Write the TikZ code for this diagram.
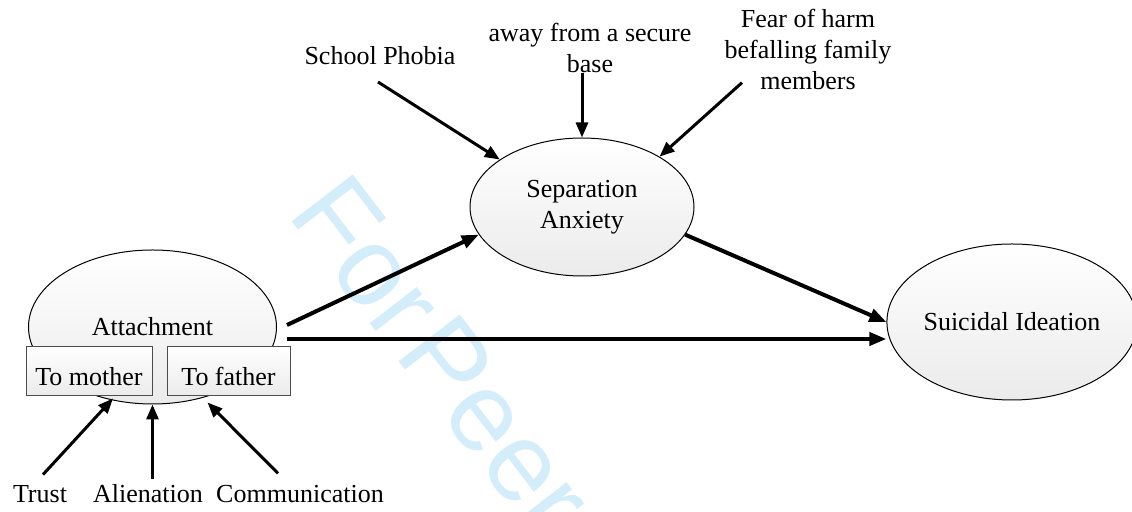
\documentclass[tikz,border=0pt]{standalone}
\usepackage{fontspec}
\setmainfont{Liberation Serif}
\newfontfamily\wmfont{Liberation Sans}
\usetikzlibrary{arrows.meta,shapes.geometric}
\definecolor{wmblue}{HTML}{D4EDFA}
\definecolor{fillbot}{HTML}{EBEBEB}
\begin{document}
\begin{tikzpicture}[x=0.5pt,y=-0.5pt,
  txt/.style={font=\fontsize{13}{15.5}\selectfont},
  lbl/.style={txt, inner sep=0pt, align=center},
  oval/.style={ellipse, draw=black, line width=0.5pt, top color=white, bottom color=fillbot,
               inner sep=0pt, align=center, txt},
  subbox/.style={rectangle, draw=black!70, line width=0.5pt, top color=white, bottom color=fillbot,
                 inner sep=0pt, txt, minimum height=24.5pt, text height=14pt, text depth=0pt},
  thinarr/.style={line width=1.5pt, -{Triangle[length=7.5pt,width=6pt]}},
  thickarr/.style={line width=2pt, -{Triangle[length=8.5pt,width=6.5pt]}},
  wm/.style={font=\wmfont\fontsize{56}{56}\selectfont, text=wmblue, inner sep=0pt}
]
\useasboundingbox (0,0) rectangle (1132,512);
% watermark
\begin{scope}
\clip (0,0) rectangle (1132,512);
\node[wm, rotate=-52.5, anchor=base west] (wmark) at (286,214) {For\kern0.08em Peer};
\end{scope}

% main nodes
\node[oval, minimum width=124pt, minimum height=77pt] (att) at (152.5,327) {Attachment};
\node[subbox, minimum width=63pt] (tm) at (89,371.5) {To mother};
\node[subbox, minimum width=61.5pt] (tf) at (228.5,371.5) {To father};
\node[oval, minimum width=112pt, minimum height=69pt] (sep) at (582,207) {Separation\\Anxiety};
\node[oval, minimum width=120pt, minimum height=78pt] (sui) at (1012,322) {Suicidal Ideation};

% labels (base = baseline of the last line)
\node[lbl, anchor=base] (sp) at (380,65) {School Phobia};
\node[lbl, anchor=base] (away) at (590,73) {away from a secure\\base};
\node[lbl, anchor=base] (fear) at (808,90) {Fear of harm\\befalling family\\members};
\node[lbl, anchor=base] (trust) at (40,503) {Trust};
\node[lbl, anchor=base] (alien) at (148,503) {Alienation};
\node[lbl, anchor=base] (comm) at (300,503) {Communication};

% top arrows
\draw[thinarr] ([xshift=-1pt,yshift=-8.5pt]sp.base) -- (sep.150);
\path ([yshift=0.5pt]away.south) coordinate (aws);
\draw[thinarr] (aws -| sep.north) -- (sep.north);
\draw[thinarr] ([xshift=-33pt,yshift=4pt]fear.south) -- (sep.33);

% main arrows
\draw[thickarr] ([xshift=5pt,yshift=1pt]att.east) -- (sep.195);
\draw[thickarr] (sep.-15) -- (sui.west);
\path ([xshift=5pt,yshift=-6pt]att.east) coordinate (h1);
\draw[thickarr] (h1) -- (h1 -| sui.west);

% bottom arrows
\draw[thinarr] ([xshift=1.5pt,yshift=5.5pt]trust.north) -- ([xshift=12pt,yshift=-1pt]tm.south);
\path ([yshift=3pt]alien.north) coordinate (alt);
\draw[thinarr] (alt -| att.south) -- (att.south);
\draw[thinarr] ([xshift=-11pt,yshift=6pt]comm.north) -- ([xshift=-10.5pt,yshift=-3pt]tf.south);
\end{tikzpicture}
\end{document}
